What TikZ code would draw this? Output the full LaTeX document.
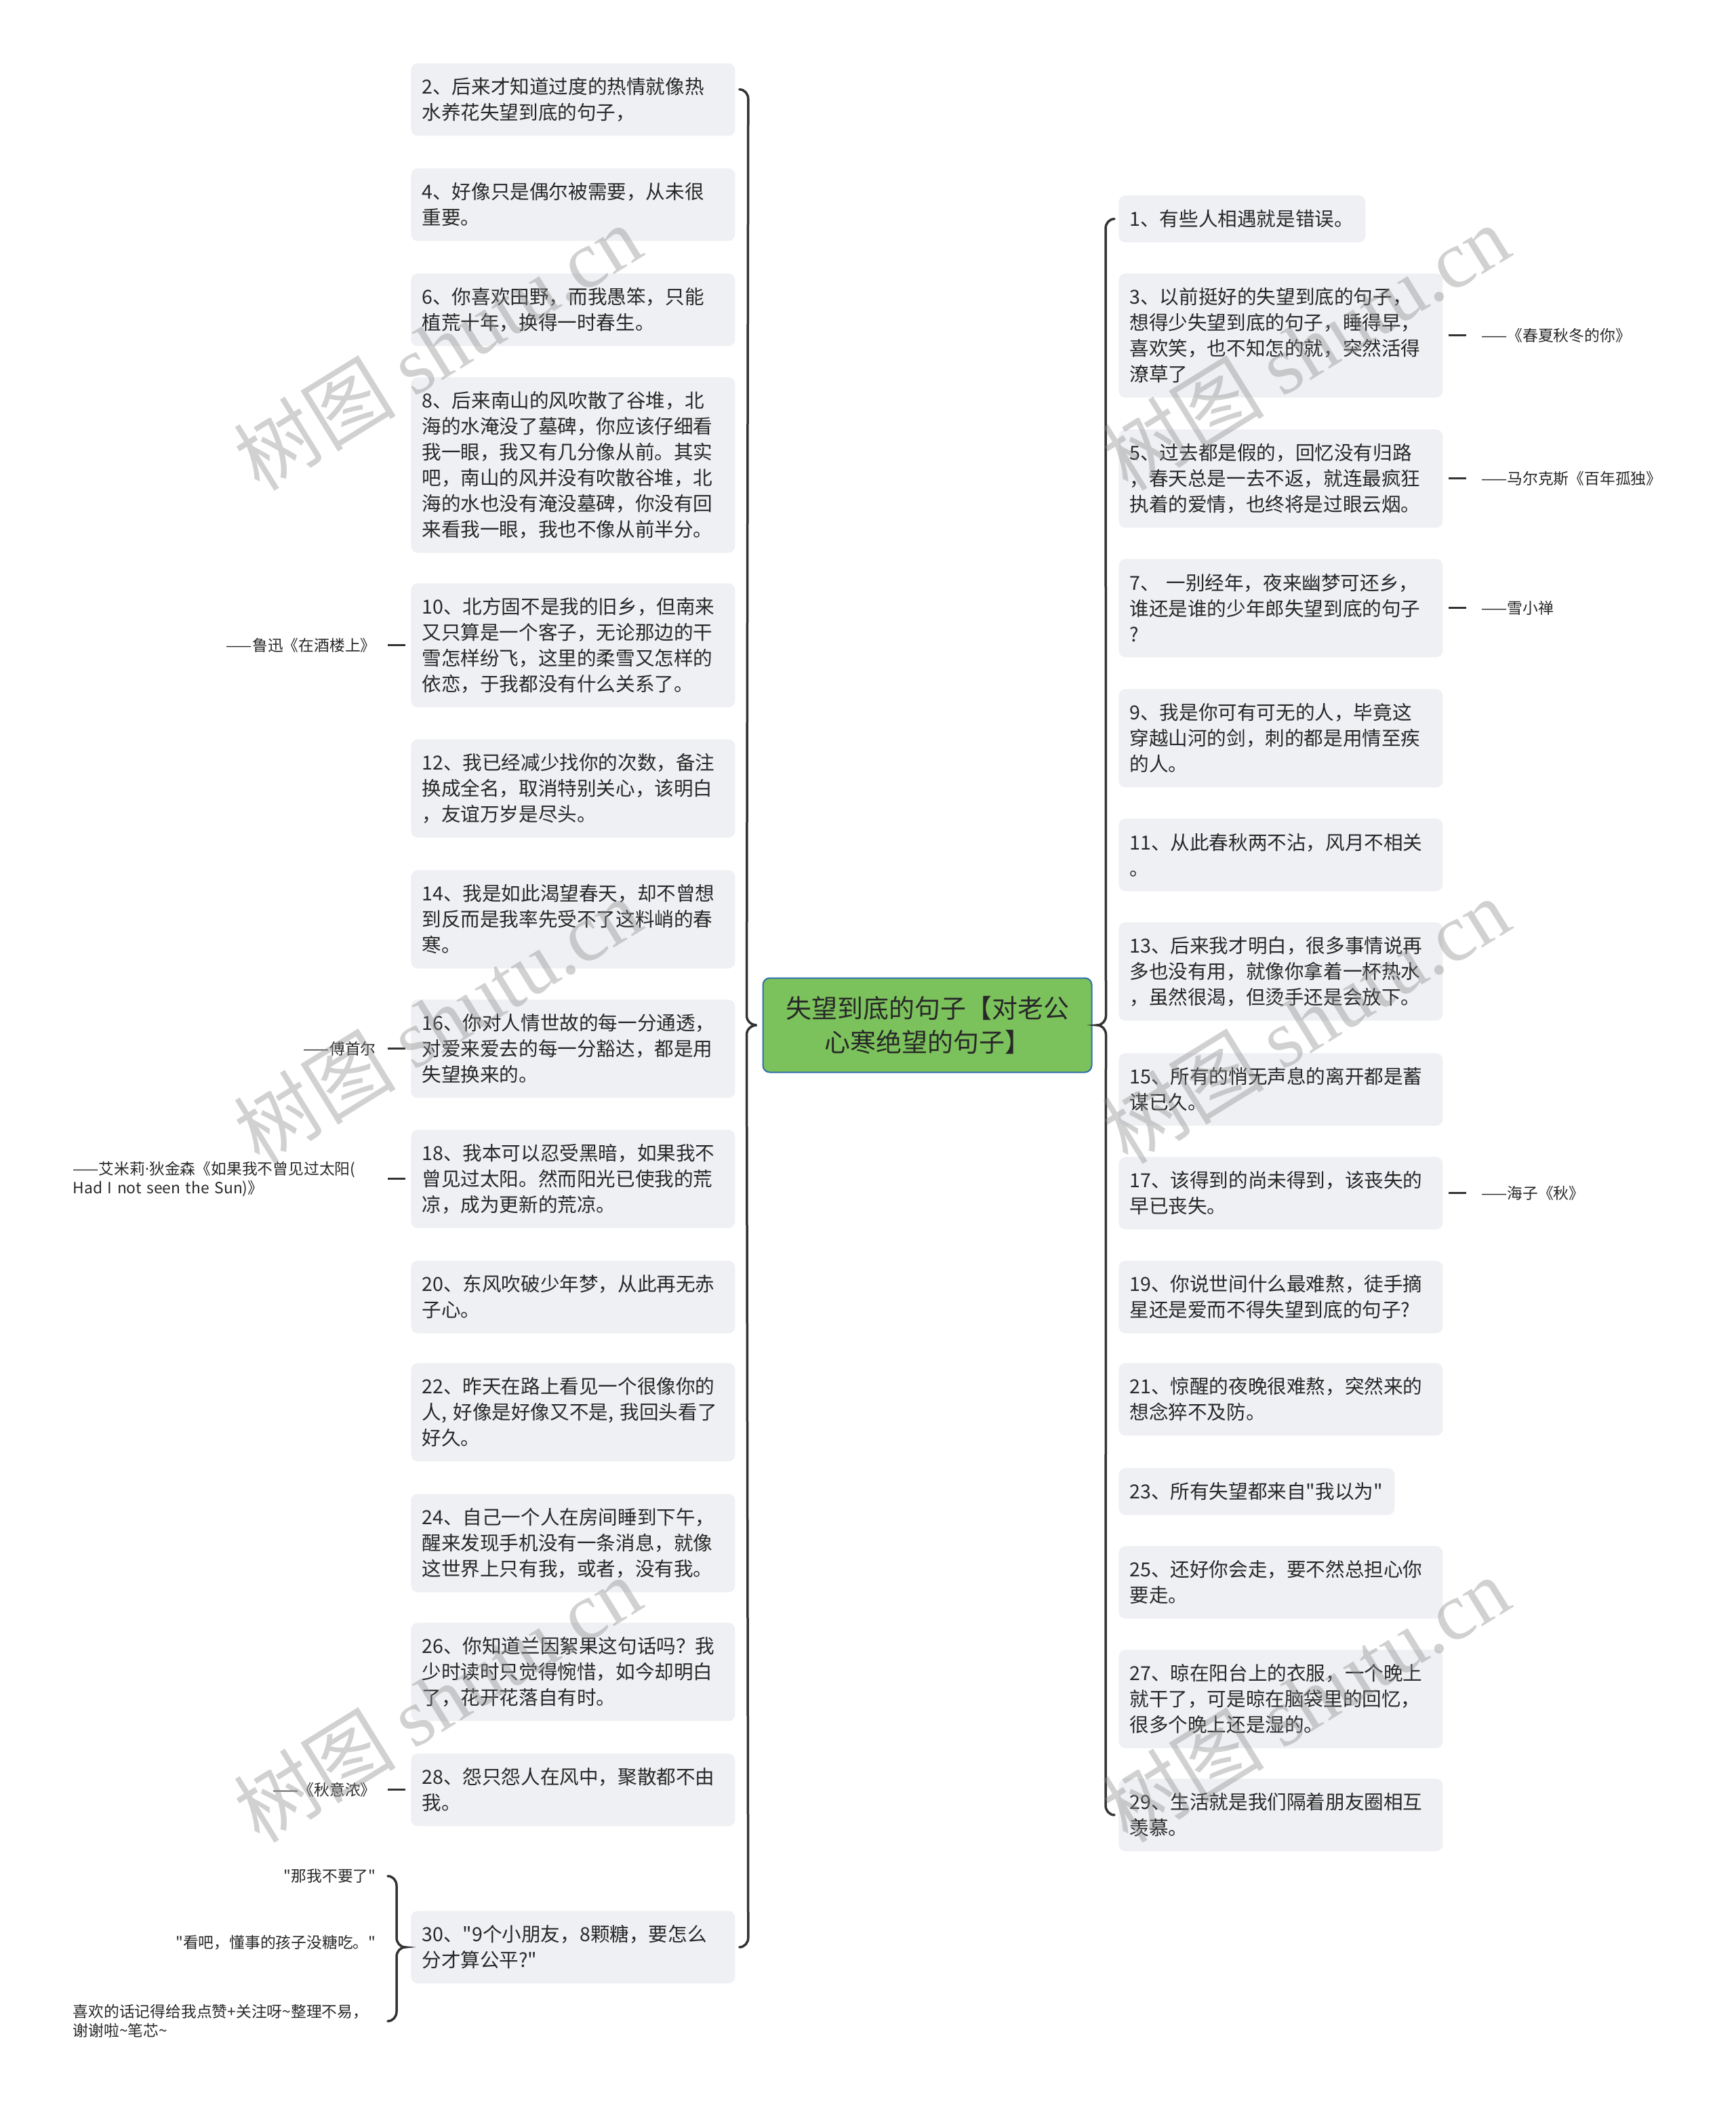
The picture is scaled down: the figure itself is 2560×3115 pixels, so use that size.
\documentclass[tikz,border=0pt]{standalone}
\usepackage{fontspec}
\setmainfont{Noto Sans CJK SC}[Ligatures=TeXOff]
\newfontfamily\wmserif{Liberation Serif}
\newfontfamily\latinf{Open Sans}
\usetikzlibrary{calc}
\definecolor{boxfill}{RGB}{238,240,243}
\definecolor{rootfill}{RGB}{124,194,92}
\definecolor{rootdraw}{RGB}{46,110,168}
\definecolor{linecol}{RGB}{51,51,51}
\definecolor{txtcol}{RGB}{40,40,40}
\definecolor{wmcol}{RGB}{140,140,140}
\begin{document}
\begin{tikzpicture}[x=0.5pt,y=-0.5pt,
  card/.style={fill=boxfill, rounded corners=5pt, anchor=north west, text width=223pt,
    align=left, inner xsep=8pt, inner ysep=2pt,
    font=\fontsize{14.3pt}{19pt}\selectfont, text=txtcol},
  nA/.style={minimum height=34.5pt},
  nB/.style={minimum height=53.5pt},
  nC/.style={minimum height=72.5pt},
  nD/.style={minimum height=91.5pt},
  nF/.style={minimum height=129.5pt},
  rootnode/.style={fill=rootfill, draw=rootdraw, line width=1pt, rounded corners=5pt,
    minimum width=242.5pt, minimum height=69.5pt, align=center,
    font=\fontsize{19pt}{25pt}\selectfont, text=txtcol},
  attr/.style={inner sep=0pt, font=\fontsize{11.4pt}{14pt}\selectfont, text=txtcol},
  bracepath/.style={draw=linecol, line width=1.75pt, line cap=round},
  dashlink/.style={draw=linecol, line width=1.5pt},
  wmark/.style={text=wmcol, opacity=0.4, font=\fontsize{60pt}{60pt}\selectfont, rotate=31.7}
]
\useasboundingbox (0,0) rectangle (2560,3115);
\fill[white] (0,0) rectangle (2560,3115);

% root
\node[rootnode] (root) at (1368,1512) {失望到底的句子【对老公\\心寒绝望的句子】};

% left cards
\node[card,nB] (b2) at (606,93) {2、后来才知道过度的热情就像热\\水养花失望到底的句子，};
\node[card,nB] (b4) at (606,248) {4、好像只是偶尔被需要，从未很\\重要。};
\node[card,nB] (b6) at (606,403) {6、你喜欢田野，而我愚笨，只能\\植荒十年，换得一时春生。};
\node[card,nF] (b8) at (606,556) {8、后来南山的风吹散了谷堆，北\\海的水淹没了墓碑，你应该仔细看\\我一眼，我又有几分像从前。其实\\吧，南山的风并没有吹散谷堆，北\\海的水也没有淹没墓碑，你没有回\\来看我一眼，我也不像从前半分。};
\node[card,nD] (b10) at (606,860) {10、北方固不是我的旧乡，但南来\\又只算是一个客子，无论那边的干\\雪怎样纷飞，这里的柔雪又怎样的\\依恋，于我都没有什么关系了。};
\node[card,nC] (b12) at (606,1090) {12、我已经减少找你的次数，备注\\换成全名，取消特别关心，该明白\\，友谊万岁是尽头。};
\node[card,nC] (b14) at (606,1283) {14、我是如此渴望春天，却不曾想\\到反而是我率先受不了这料峭的春\\寒。};
\node[card,nC] (b16) at (606,1474) {16、你对人情世故的每一分通透，\\对爱来爱去的每一分豁达，都是用\\失望换来的。};
\node[card,nC] (b18) at (606,1666) {18、我本可以忍受黑暗，如果我不\\曾见过太阳。然而阳光已使我的荒\\凉，成为更新的荒凉。};
\node[card,nB] (b20) at (606,1859) {20、东风吹破少年梦，从此再无赤\\子心。};
\node[card,nC] (b22) at (606,2010) {22、昨天在路上看见一个很像你的\\人, 好像是好像又不是, 我回头看了\\好久。};
\node[card,nC] (b24) at (606,2203) {24、自己一个人在房间睡到下午，\\醒来发现手机没有一条消息，就像\\这世界上只有我，或者，没有我。};
\node[card,nC] (b26) at (606,2393) {26、你知道兰因絮果这句话吗？我\\少时读时只觉得惋惜，如今却明白\\了，花开花落自有时。};
\node[card,nB] (b28) at (606,2586) {28、怨只怨人在风中，聚散都不由\\我。};
\node[card,nB] (b30) at (606,2818) {30、"9个小朋友，8颗糖，要怎么\\分才算公平?"};

% right cards
\node[card,nA,text width=166pt] (r1) at (1650,288) {1、有些人相遇就是错误。};
\node[card,nD] (r3) at (1650,403) {3、以前挺好的失望到底的句子，\\想得少失望到底的句子，睡得早，\\喜欢笑，也不知怎的就，突然活得\\潦草了};
\node[card,nC] (r5) at (1650,633) {5、过去都是假的，回忆没有归路\\，春天总是一去不返，就连最疯狂\\执着的爱情，也终将是过眼云烟。};
\node[card,nC] (r7) at (1650,824) {7、 一别经年，夜来幽梦可还乡，\\谁还是谁的少年郎失望到底的句子\\?};
\node[card,nC] (r9) at (1650,1016) {9、我是你可有可无的人，毕竟这\\穿越山河的剑，刺的都是用情至疾\\的人。};
\node[card,nB] (r11) at (1650,1207) {11、从此春秋两不沾，风月不相关\\。};
\node[card,nC] (r13) at (1650,1360) {13、后来我才明白，很多事情说再\\多也没有用，就像你拿着一杯热水\\，虽然很渴，但烫手还是会放下。};
\node[card,nB] (r15) at (1650,1553) {15、所有的悄无声息的离开都是蓄\\谋已久。};
\node[card,nB] (r17) at (1650,1706) {17、该得到的尚未得到，该丧失的\\早已丧失。};
\node[card,nB] (r19) at (1650,1859) {19、你说世间什么最难熬，徒手摘\\星还是爱而不得失望到底的句子?};
\node[card,nB] (r21) at (1650,2010) {21、惊醒的夜晚很难熬，突然来的\\想念猝不及防。};
\node[card,nA,text width=187.5pt] (r23) at (1650,2165) {23、所有失望都来自"我以为"};
\node[card,nB] (r25) at (1650,2280) {25、还好你会走，要不然总担心你\\要走。};
\node[card,nC] (r27) at (1650,2433) {27、晾在阳台上的衣服，一个晚上\\就干了，可是晾在脑袋里的回忆，\\很多个晚上还是湿的。};
\node[card,nB] (r29) at (1650,2623) {29、生活就是我们隔着朋友圈相互\\羡慕。};

% right attributions
\node[attr,anchor=west] (a3) at ($(r3.east)+(56,0)$) {——《春夏秋冬的你》};
\node[attr,anchor=west] (a5) at ($(r5.east)+(56,0)$) {——马尔克斯《百年孤独》};
\node[attr,anchor=west] (a7) at ($(r7.east)+(56,0)$) {——雪小禅};
\node[attr,anchor=west] (a17) at ($(r17.east)+(56,0)$) {——海子《秋》};
\foreach \i in {3,5,7,17}
  \draw[dashlink] ([xshift=4pt]r\i.east) -- ([xshift=-11pt]a\i.west);

% left attributions
\node[attr,anchor=east] (a10) at ($(b10.west)+(-51,0)$) {——鲁迅《在酒楼上》};
\node[attr,anchor=east] (a16) at ($(b16.west)+(-51,0)$) {——傅首尔};
\node[attr,anchor=east,text width=223.5pt,align=left] (a18) at ($(b18.west)+(-51,0)$) {——艾米莉{\latinf ·}狄金森《如果我不曾见过太阳(\\Had I not seen the Sun)》};
\node[attr,anchor=east] (a28) at ($(b28.west)+(-51,0)$) {——《秋意浓》};
\foreach \i in {10,16,18,28}
  \draw[dashlink] ([xshift=-4pt]b\i.west) -- ([xshift=8.5pt]a\i.east);

% children of card 30
\node[attr,anchor=east] (c1) at (555,2767) {"那我不要了"};
\node[attr,anchor=east] (c2) at (555,2865) {"看吧，懂事的孩子没糖吃。"};
\node[attr,anchor=east,text width=223.5pt,align=left] (c3) at (555,2981) {喜欢的话记得给我点赞+关注呀\textasciitilde 整理不易，\\谢谢啦\textasciitilde 笔芯\textasciitilde};

% left main brace
\coordinate (LT) at ($(b2.east)+(6,-15)$);
\coordinate (LB) at ($(b30.east)+(6,0)$);
\coordinate (LM) at ($(root.west)+(-8,0)$);
\draw[bracepath] (LT) to[out=0,in=90] ($(LT)+(13,14)$) -- ($(LM)+(-15,-14)$)
  to[out=-90,in=180] (LM) to[out=180,in=90] ($(LM)+(-15,14)$)
  -- ($(LB)+(13,-14)$) to[out=-90,in=0] (LB);

% right main brace
\coordinate (RT) at ($(r1.west)+(-6,0)$);
\coordinate (RB) at ($(r29.west)+(-6,0)$);
\coordinate (RM) at ($(root.east)+(7,0)$);
\draw[bracepath] (RT) to[out=180,in=90] ($(RT)+(-13,14)$) -- ($(RM)+(13,-14)$)
  to[out=-90,in=0] (RM) to[out=0,in=90] ($(RM)+(13,14)$)
  -- ($(RB)+(-13,-14)$) to[out=-90,in=180] (RB);

% brace of card 30
\coordinate (CT) at ($(c1.east)+(17,0)$);
\coordinate (CB) at (CT |- c3.east);
\coordinate (CM) at ($(b30.west)+(-8,0)$);
\draw[bracepath] (CT) to[out=0,in=90] ($(CT)+(13,14)$) -- ($(CM)+(-13,-14)$)
  to[out=-90,in=180] (CM) to[out=180,in=90] ($(CM)+(-13,14)$)
  -- ($(CB)+(13,-14)$) to[out=-90,in=0] (CB);

% watermarks
\foreach \wx/\wy in {645/512, 1926/512, 645/1505, 1926/1505, 645/2506, 1926/2506}
  \node[wmark] at (\wx,\wy) {树图 {\wmserif shutu.cn}};
\end{tikzpicture}
\end{document}
